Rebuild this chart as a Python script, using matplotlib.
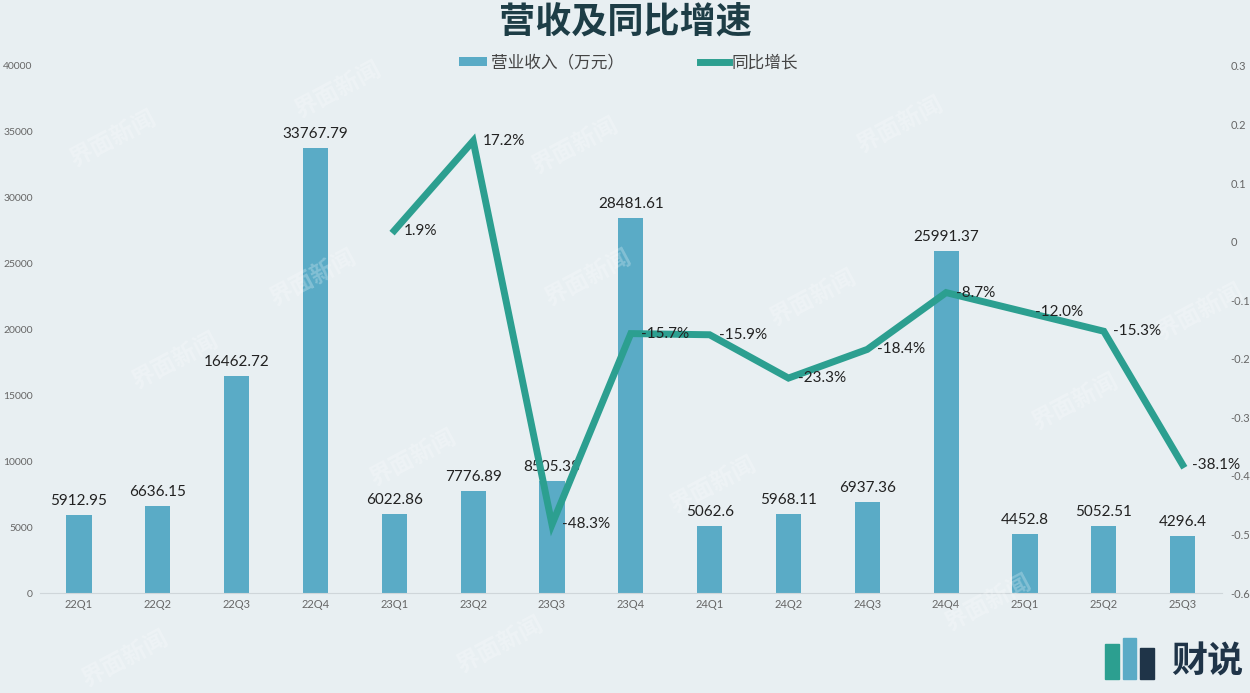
import matplotlib
matplotlib.use("Agg")
import matplotlib.pyplot as plt
from matplotlib.ticker import FuncFormatter

plt.rcParams["font.family"] = ["Noto Sans CJK SC", "DejaVu Sans"]
NUM_FONT = ["Lato", "DejaVu Sans"]

# data
quarters = ["22Q1", "22Q2", "22Q3", "22Q4", "23Q1", "23Q2", "23Q3", "23Q4",
            "24Q1", "24Q2", "24Q3", "24Q4", "25Q1", "25Q2", "25Q3"]
revenue = [5912.95, 6636.15, 16462.72, 33767.79, 6022.86, 7776.89, 8505.38,
           28481.61, 5062.6, 5968.11, 6937.36, 25991.37, 4452.8, 5052.51, 4296.4]
revenue_labels = ["5912.95", "6636.15", "16462.72", "33767.79", "6022.86", "7776.89",
                  "8505.38", "28481.61", "5062.6", "5968.11", "6937.36", "25991.37",
                  "4452.8", "5052.51", "4296.4"]
yoy_quarters = quarters[4:]
yoy = [0.019, 0.172, -0.483, -0.157, -0.159, -0.233, -0.184, -0.087, -0.120, -0.153, -0.381]

BG = "#e8eff2"
BAR = "#5aabc6"
LINE = "#2c9f90"
TXT = "#222222"
TICK = "#666666"

fig = plt.figure(figsize=(12.5, 6.93), dpi=100, facecolor=BG)
ax = fig.add_axes([0.0317, 0.1443, 0.9459, 0.7605], facecolor=BG)
ax2 = ax.twinx()

x = list(range(len(quarters)))
ax.bar(x, revenue, width=0.32, color=BAR, zorder=2, label="营业收入（万元）")
for xi, v, lab in zip(x, revenue, revenue_labels):
    ax.annotate(lab, (xi, v), xytext=(0, 5), textcoords="offset points",
                ha="center", va="bottom", fontsize=11, color=TXT, family=NUM_FONT)

ax.set_xlim(-0.5, len(quarters) - 0.5)
ax.set_ylim(0, 40000)
ax.set_yticks(range(0, 40001, 5000))
ax.set_xticks(x)
ax.set_xticklabels(quarters, family=NUM_FONT)
ax.tick_params(axis="both", length=0, colors=TICK)
ax.tick_params(axis="x", pad=4, labelsize=8)
ax.tick_params(axis="y", pad=5, labelsize=7.5)
for t in ax.get_yticklabels():
    t.set_family(NUM_FONT)

xl = [quarters.index(q) for q in yoy_quarters]
ax2.plot(xl, yoy, color=LINE, lw=5, zorder=3, solid_joinstyle="miter", label="同比增长")
for xi, v in zip(xl, yoy):
    ax2.annotate(f"{v*100:.1f}%", (xi, v), xytext=(7, 0), textcoords="offset points",
                 ha="left", va="center", fontsize=11, color=TXT, family=NUM_FONT)
ax2.set_ylim(-0.6, 0.3)
ax2.set_yticks([0.3, 0.2, 0.1, 0, -0.1, -0.2, -0.3, -0.4, -0.5, -0.6])
ax2.yaxis.set_major_formatter(FuncFormatter(lambda v, p: "0" if abs(v) < 1e-9 else f"{v:.1f}"))
ax2.tick_params(axis="y", length=0, colors=TICK, labelsize=8, pad=6)
for t in ax2.get_yticklabels():
    t.set_family(NUM_FONT)

for a in (ax, ax2):
    for s in ["top", "left", "right"]:
        a.spines[s].set_visible(False)
    a.spines["bottom"].set_color("#cfd6da")
ax2.spines["bottom"].set_visible(False)
ax.set_zorder(1)
ax2.set_zorder(2)
ax2.patch.set_visible(False)

# faint watermarks on top
for wx, wy in [(0.09, 0.8), (0.27, 0.87), (0.47, 0.6), (0.72, 0.82), (0.86, 0.42),
               (0.14, 0.48), (0.33, 0.34), (0.57, 0.3), (0.79, 0.13), (0.1, 0.05),
               (0.4, 0.07), (0.65, 0.57), (0.96, 0.55), (0.25, 0.6), (0.46, 0.79)]:
    fig.text(wx, wy, "界面新闻", fontsize=17, color="white", alpha=0.25,
             rotation=28, ha="center", va="center", fontweight="bold", zorder=10)

fig.text(0.5, 0.968, "营收及同比增速", ha="center", va="center", fontsize=26,
         fontweight="bold", color="#1d3d46")

h1, l1 = ax.get_legend_handles_labels()
h2, l2 = ax2.get_legend_handles_labels()
fig.legend(h1 + h2, l1 + l2, loc="center", bbox_to_anchor=(0.503, 0.909), ncol=2,
           frameon=False, fontsize=12, handlelength=1.7, handleheight=0.5,
           columnspacing=4.6, handletextpad=0.2, labelcolor="#444444")

fig.text(0.995, 0.045, "财说", ha="right", va="center", fontsize=26,
         fontweight="bold", color="#1f3448")
for bx, bh, c in [(0.884, 0.05, "#2c9f90"), (0.898, 0.06, "#5aabc6"), (0.912, 0.045, "#1f3448")]:
    fig.patches.append(plt.Rectangle((bx, 0.02), 0.011, bh, transform=fig.transFigure,
                                     color=c, zorder=5))

fig.savefig("out.png", dpi=100, facecolor=BG)
